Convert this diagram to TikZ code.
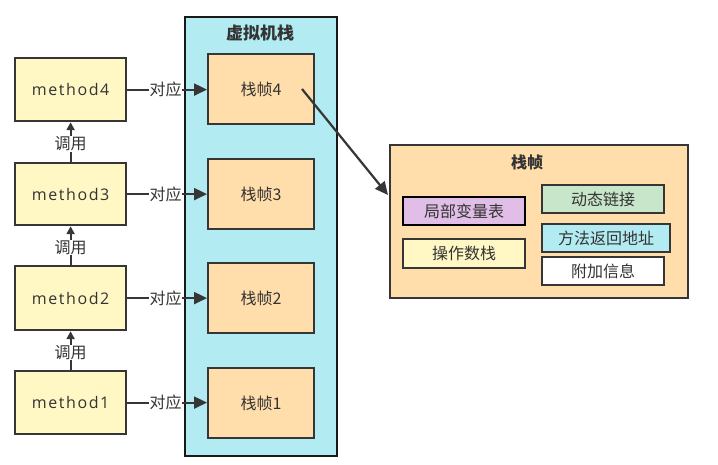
\documentclass[tikz,border=0pt]{standalone}
\usepackage{fontspec}
\setmainfont{Noto Sans CJK SC}
\newfontfamily\latf[LetterSpace=10]{Open Sans}
\usetikzlibrary{arrows.meta,calc}
\definecolor{edge}{HTML}{363636}
\definecolor{myellow}{HTML}{FFF8C5}
\definecolor{morange}{HTML}{FFDEAB}
\definecolor{mcyan}{HTML}{B3EBF2}
\definecolor{mpurple}{HTML}{E1BEE7}
\definecolor{mgreen}{HTML}{C8E6C9}
\definecolor{mtext}{HTML}{333333}
\tikzset{
  box/.style={draw=edge, line width=2.2pt, rectangle, inner sep=0pt, text=mtext, font=\fontsize{16}{18}\selectfont},
  conn/.style={draw=edge, line width=2.2pt, -{Triangle[length=13pt,width=12pt]}},
  connsmall/.style={draw=edge, line width=2.2pt, -{Triangle[length=8pt,width=8pt]}},
  lab/.style={fill=white, inner sep=0.5pt, text=mtext, font=\fontsize{16}{18}\selectfont},
}
\begin{document}
\begin{tikzpicture}[x=1pt,y=-1pt]
\useasboundingbox (0,0) rectangle (718,464);
% VM stack
\node[box, draw=black!90, fill=mcyan, minimum width=152pt, minimum height=439pt, anchor=north west] (vm) at (184,16) {};
\node[text=mtext, font=\fontsize{17}{19}\selectfont\bfseries] (vmt) at (260,33) {虚拟机栈};
% methods
\node[box, fill=myellow, minimum width=111pt, minimum height=63pt, anchor=north west, font=\latf\fontsize{16}{18}\selectfont] (m4) at (14,57) {method4};
\node[box, fill=myellow, minimum width=111pt, minimum height=62pt, anchor=north west, font=\latf\fontsize{16}{18}\selectfont] (m3) at (14,162) {method3};
\node[box, fill=myellow, minimum width=111pt, minimum height=64pt, anchor=north west, font=\latf\fontsize{16}{18}\selectfont] (m2) at (14,265) {method2};
\node[box, fill=myellow, minimum width=111pt, minimum height=63pt, anchor=north west, font=\latf\fontsize{16}{18}\selectfont] (m1) at (14,370) {method1};
% frames
\node[box, fill=morange, minimum width=106pt, minimum height=70pt, anchor=north west] (f4) at (207,53) {栈帧4};
\node[box, fill=morange, minimum width=106pt, minimum height=70pt, anchor=north west] (f3) at (207,158) {栈帧3};
\node[box, fill=morange, minimum width=106pt, minimum height=70pt, anchor=north west] (f2) at (207,262) {栈帧2};
\node[box, fill=morange, minimum width=106pt, minimum height=70pt, anchor=north west] (f1) at (207,367) {栈帧1};
% correspondences
\foreach \i in {1,2,3,4}{
  \draw[conn] (m\i.east) -- node[lab, pos=0.48] {对应} (m\i.east -| f\i.west);
}
% calls
\draw[connsmall] (m1.north) -- node[lab, pos=0.45] {调用} (m2.south);
\draw[connsmall] (m2.north) -- node[lab, pos=0.45] {调用} (m3.south);
\draw[connsmall] (m3.north) -- node[lab, pos=0.45] {调用} (m4.south);
% frame detail
\node[box, fill=morange, minimum width=298pt, minimum height=153pt, anchor=north west] (sf) at (389,144) {};
\node[text=mtext, font=\fontsize{16}{18}\selectfont\bfseries] (sft) at (527,162) {栈帧};
\node[box, fill=mpurple, draw=black, minimum width=122pt, minimum height=28pt, anchor=north west] (b1) at (402,196) {局部变量表};
\node[box, fill=myellow, minimum width=122pt, minimum height=29pt, anchor=north west] (b2) at (402,238) {操作数栈};
\node[box, fill=mgreen, minimum width=122pt, minimum height=28pt, anchor=north west] (b3) at (541,184) {动态链接};
\node[box, fill=mcyan, minimum width=128pt, minimum height=28pt, anchor=north west] (b4) at (541,223) {方法返回地址};
\node[box, fill=white, minimum width=122pt, minimum height=28pt, anchor=north west] (b5) at (541,256) {附加信息};
\coordinate (s) at (302,89);
\coordinate (e) at (388,195);
\draw[conn] (s) -- (e);
\end{tikzpicture}
\end{document}
